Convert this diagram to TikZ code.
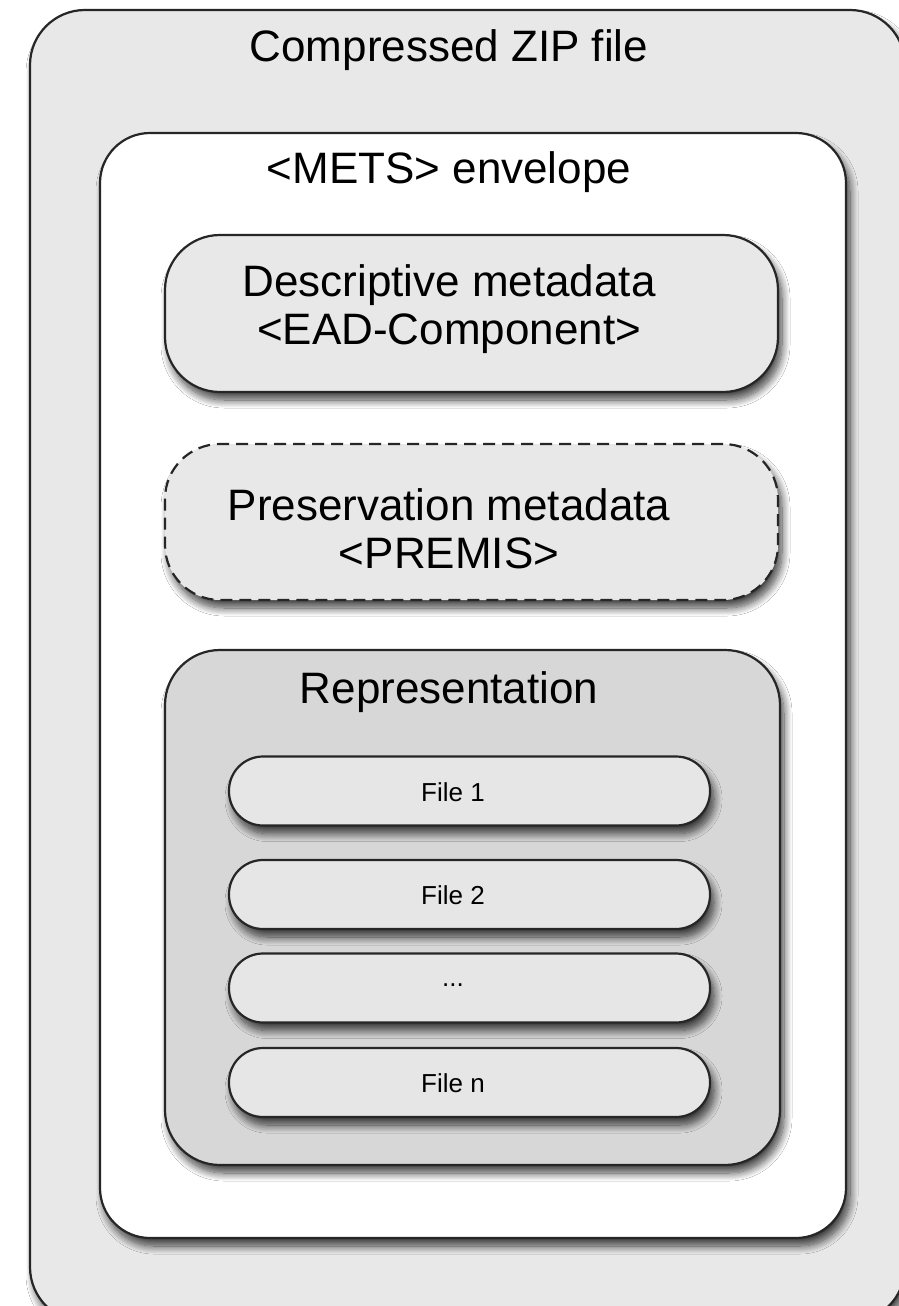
\documentclass[tikz,border=0pt]{standalone}
\usepackage{fontspec}
\setmainfont{Liberation Sans}
\usetikzlibrary{shadows.blur}
\definecolor{boxgray}{HTML}{E8E8E8}
\definecolor{repgray}{HTML}{D7D7D7}
\definecolor{filegray}{HTML}{E6E6E6}
\tikzset{
  container/.style={draw=black!85, line width=2.2pt, rectangle, inner sep=0pt,
    blur shadow={shadow xshift=4pt, shadow yshift=-8pt, shadow blur radius=8pt, shadow opacity=75, shadow blur steps=12}},
  bigtext/.style={font=\fontsize{44}{50}\selectfont, inner sep=0pt, anchor=center},
  filetext/.style={font=\fontsize{26}{30}\selectfont, inner sep=0pt, anchor=center},
  filebox/.style={container, fill=filegray, rounded corners=34pt, minimum width=481pt, minimum height=69pt}
}
\begin{document}
\begin{tikzpicture}[x=1pt,y=-1pt]
\clip (0,0) rectangle (899,1306);
\fill[white] (0,0) rectangle (899,1306);
% outer zip
\node[container, fill=boxgray, rounded corners=55pt, minimum width=875pt, minimum height=1312pt] (zip) at (467.5,666) {};
\node[bigtext] (ziplabel) at (449,50) {Compressed ZIP file};
% METS envelope
\node[container, fill=white, rounded corners=50pt, minimum width=746pt, minimum height=1105pt] (mets) at (473,685.5) {};
\node[bigtext] (metslabel) at (449,172) {<METS> envelope};
% descriptive
\node[container, fill=boxgray, rounded corners=55pt, minimum width=613pt, minimum height=157pt] (desc) at (471.5,313.5) {};
\node[bigtext, align=center] (desclabel) at (449,309) {Descriptive metadata\\[-2pt]<EAD-Component>};
% preservation
\node[container, fill=boxgray, dash pattern=on 12pt off 7pt, rounded corners=55pt, minimum width=613pt, minimum height=156pt] (pres) at (471.5,522) {};
\node[bigtext, align=center] (preslabel) at (449,529) {Preservation metadata\\[-2pt]<PREMIS>};
% representation
\node[container, fill=repgray, rounded corners=55pt, minimum width=615pt, minimum height=515pt] (rep) at (472.5,907.5) {};
\node[bigtext] (replabel) at (449,692) {Representation};
% files
\node[filebox] (f1) at (469.5,791) {};
\node[filetext] (f1label) at (453,792) {File 1};
\node[filebox] (f2) at (469.5,894.5) {};
\node[filetext] (f2label) at (453,895) {File 2};
\node[filebox] (f3) at (469.5,988) {};
\node[filetext] (f3label) at (453,985) {...};
\node[filebox] (fn) at (469.5,1082.5) {};
\node[filetext] (fnlabel) at (453,1083) {File n};
\end{tikzpicture}
\end{document}
